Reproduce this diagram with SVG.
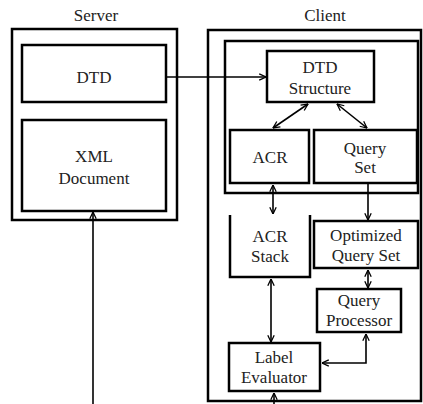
<svg xmlns="http://www.w3.org/2000/svg" width="423" height="404" viewBox="0 0 423 404">
<style>
.box{fill:#fff;stroke:#000;stroke-width:2.5}
.frame{fill:none;stroke:#000;stroke-width:2.5}
text{font-family:'Liberation Serif','Times New Roman','DejaVu Serif',serif;font-size:17px;fill:#222;text-anchor:middle}
.c{fill:none;stroke:#000;stroke-width:1.6}
</style>
<defs>
<marker id="a" viewBox="0 0 10 10" refX="9.5" refY="5" markerWidth="8" markerHeight="8" markerUnits="userSpaceOnUse" orient="auto-start-reverse">
<path d="M1,1 L9.5,5 L1,9" fill="none" stroke="#000" stroke-width="1.6"/>
</marker>
</defs>
<rect width="423" height="404" fill="#fff"/>
<g id="server">
<rect class="frame" x="12" y="29" width="165" height="191"/>
<text x="96" y="21">Server</text>
</g>
<g id="client">
<rect class="frame" x="208" y="30" width="213" height="371"/>
<text x="325" y="21">Client</text>
</g>
<g id="client-inner">
<rect class="frame" x="225" y="41" width="193" height="152"/>
</g>
<g id="dtd">
<rect class="box" x="22" y="45" width="144" height="57"/>
<text x="94" y="83">DTD</text>
</g>
<g id="xml-document">
<rect class="box" x="22" y="120" width="144" height="91"/>
<text x="94" y="162">XML</text>
<text x="94" y="184">Document</text>
</g>
<g id="dtd-structure">
<rect class="box" x="267" y="51" width="107" height="51"/>
<text x="320" y="73">DTD</text>
<text x="320" y="94">Structure</text>
</g>
<g id="acr">
<rect class="box" x="230" y="130" width="79" height="53"/>
<text x="270" y="163">ACR</text>
</g>
<g id="query-set">
<rect class="box" x="314" y="130" width="103" height="53"/>
<text x="365" y="154">Query</text>
<text x="365" y="173">Set</text>
</g>
<g id="acr-stack">
<path class="frame" d="M230,215 V277 H310 V215"/>
<text x="270" y="242">ACR</text>
<text x="270" y="262">Stack</text>
</g>
<g id="optimized-query-set">
<rect class="box" x="314" y="221" width="104" height="47"/>
<text x="366" y="241">Optimized</text>
<text x="366" y="261">Query Set</text>
</g>
<g id="query-processor">
<rect class="box" x="317" y="289" width="84" height="43"/>
<text x="359" y="306">Query</text>
<text x="359" y="326">Processor</text>
</g>
<g id="label-evaluator">
<rect class="box" x="229" y="343" width="91" height="48"/>
<text x="274" y="363">Label</text>
<text x="274" y="383">Evaluator</text>
</g>
<g id="connectors">
<path class="c" d="M166,77 H266" marker-end="url(#a)"/>
<path class="c" d="M308,104 L273,128" marker-start="url(#a)" marker-end="url(#a)"/>
<path class="c" d="M337,104 L367,128" marker-start="url(#a)" marker-end="url(#a)"/>
<path class="c" d="M273,185 V214" marker-start="url(#a)" marker-end="url(#a)"/>
<path class="c" d="M368,184 V220" marker-end="url(#a)"/>
<path class="c" d="M271,279 V342" marker-start="url(#a)" marker-end="url(#a)"/>
<path class="c" d="M368,270 V288" marker-start="url(#a)" marker-end="url(#a)"/>
<path class="c" d="M366,334 V363 H322" marker-start="url(#a)" marker-end="url(#a)"/>
<path class="c" d="M274,404 V393" marker-end="url(#a)"/>
<path class="c" d="M93,404 V212" marker-end="url(#a)"/>
</g>
</svg>
